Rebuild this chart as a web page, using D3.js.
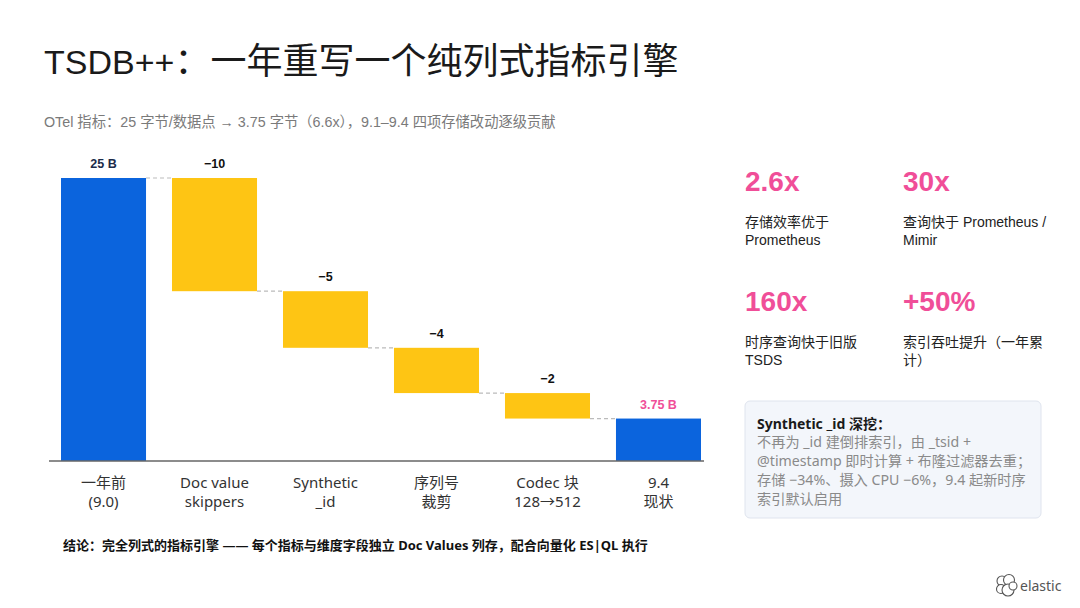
<!DOCTYPE html>
<html lang="zh">
    <head>
        <meta charset="utf-8">
        <title>TSDB++ waterfall</title>
        <script type="text/javascript" src="https://cdnjs.cloudflare.com/ajax/libs/d3/7.8.5/d3.min.js"></script>
        <style>
            html, body { margin: 0; padding: 0; background: #fff; }
            svg { display: block; }
            .latin { font-family: "Liberation Sans", Arial, "Noto Sans CJK SC", sans-serif; }
            .noto { font-family: "Noto Sans", "Noto Sans CJK SC", sans-serif; }
        </style>
    </head>
    <body>
        <div id="chart"></div>
        <script type="text/javascript">
            // waterfall data: start, four steps, result
            var categories = [["一年前", "(9.0)"], ["Doc value", "skippers"], ["Synthetic", "_id"],
                              ["序列号", "裁剪"], ["Codec 块", "128→512"], ["9.4", "现状"]];
            var startValue = 25;
            var stepValues = [-10, -5, -4, -2.25];
            var endValue = 3.75;
            var valueLabels = ["25 B", "−10", "−5", "−4", "−2", "3.75 B"];

            // stat tiles on the right
            var statNumbers = ["2.6x", "30x", "160x", "+50%"];
            var statLines = [["存储效率优于", "Prometheus"], ["查询快于 Prometheus /", "Mimir"],
                             ["时序查询快于旧版", "TSDS"], ["索引吞吐提升（一年累", "计）"]];

            var noteTitle = "Synthetic _id 深挖：";
            var noteLines = ["不再为 _id 建倒排索引，由 _tsid +", "@timestamp 即时计算 + 布隆过滤器去重；",
                             "存储 −34%、摄入 CPU −6%，9.4 起新时序", "索引默认启用"];

            var blue = "#0b64dd", yellow = "#fec514", pink = "#f04e98";

            var svg = d3.select("#chart").append("svg")
                .attr("width", 1080)
                .attr("height", 608);

            // title + subtitle
            var title = svg.append("text").attr("class", "latin")
                .attr("x", 44).attr("y", 74)
                .attr("font-size", 34).attr("fill", "#1a1a1a");
            title.append("tspan").text("TSDB++");
            title.append("tspan").attr("font-size", 36).text("：一年重写一个纯列式指标引擎");
            svg.append("text").attr("class", "latin")
                .attr("x", 44).attr("y", 127)
                .attr("font-size", 14.3).attr("fill", "#7a7a7a")
                .text("OTel 指标：25 字节/数据点 → 3.75 字节（6.6x），9.1–9.4 四项存储改动逐级贡献");

            // build the running totals
            var bars = [{ y0: 0, y1: startValue, kind: "total" }];
            var run = startValue;
            stepValues.forEach(function (v) {
                bars.push({ y0: run + v, y1: run, kind: "step" });
                run += v;
            });
            bars.push({ y0: 0, y1: endValue, kind: "total" });
            bars.forEach(function (d, i) { d.cat = categories[i]; d.label = valueLabels[i]; });

            var x = d3.scaleBand()
                .domain(d3.range(categories.length))
                .range([61, 701])
                .paddingInner(0.234)
                .paddingOuter(0);
            var y = d3.scaleLinear()
                .domain([0, startValue])
                .range([461, 178]);

            var g = svg.append("g");

            // dashed connectors between bars
            g.selectAll(".conn")
                .data(bars.slice(0, -1))
                .enter().append("line")
                .attr("x1", function (d, i) { return x(i) + x.bandwidth(); })
                .attr("x2", function (d, i) { return x(i + 1); })
                .attr("y1", function (d, i) { return y(i === 0 ? d.y1 : d.y0); })
                .attr("y2", function (d, i) { return y(i === 0 ? d.y1 : d.y0); })
                .attr("stroke", "#bbb")
                .attr("stroke-width", 1.2)
                .attr("stroke-dasharray", "4,3");

            g.selectAll(".bar")
                .data(bars)
                .enter().append("rect")
                .attr("x", function (d, i) { return x(i); })
                .attr("y", function (d) { return y(d.y1); })
                .attr("width", x.bandwidth())
                .attr("height", function (d) { return y(d.y0) - y(d.y1); })
                .attr("fill", function (d) { return d.kind === "total" ? blue : yellow; });

            g.selectAll(".vlabel")
                .data(bars)
                .enter().append("text")
                .attr("class", "latin")
                .attr("x", function (d, i) { return x(i) + x.bandwidth() / 2; })
                .attr("y", function (d) { return y(d.y1) - 10; })
                .attr("text-anchor", "middle")
                .attr("font-size", 12.5)
                .attr("font-weight", "bold")
                .attr("fill", function (d, i) { return i === 0 ? "#1c2b4a" : (i === bars.length - 1 ? pink : "#111"); })
                .text(function (d) { return d.label; });

            // baseline
            g.append("line")
                .attr("x1", 49).attr("x2", 704)
                .attr("y1", y(0)).attr("y2", y(0))
                .attr("stroke", "#666").attr("stroke-width", 1.5);

            // category labels (two lines)
            var cat = g.selectAll(".cat")
                .data(bars)
                .enter().append("text")
                .attr("class", "noto")
                .attr("text-anchor", "middle")
                .attr("font-size", 15)
                .attr("fill", "#333");
            cat.selectAll("tspan")
                .data(function (d, i) { return d.cat.map(function (t) { return { t: t, i: i }; }); })
                .enter().append("tspan")
                .attr("x", function (d) { return x(d.i) + x.bandwidth() / 2; })
                .attr("y", function (d, j) { return 488 + j * 19; })
                .text(function (d) { return d.t; });

            // stat tiles
            var tiles = svg.selectAll(".tile")
                .data(statNumbers)
                .enter().append("g")
                .attr("transform", function (d, i) {
                    return "translate(" + (745 + (i % 2) * 158) + "," + (191 + Math.floor(i / 2) * 120) + ")";
                });
            tiles.append("text")
                .attr("class", "latin")
                .attr("font-size", 28)
                .attr("font-weight", "bold")
                .attr("fill", pink)
                .text(function (d) { return d; });
            tiles.append("text")
                .attr("class", "latin")
                .attr("font-size", 14)
                .attr("fill", "#222")
                .selectAll("tspan")
                .data(function (d, i) { return statLines[i]; })
                .enter().append("tspan")
                .attr("x", 0)
                .attr("y", function (d, j) { return 36 + j * 18; })
                .text(function (d) { return d; });

            // note box
            svg.append("rect")
                .attr("x", 745).attr("y", 401)
                .attr("width", 296).attr("height", 117)
                .attr("rx", 5)
                .attr("fill", "#f3f6fb")
                .attr("stroke", "#dfe4ee");
            svg.append("text").attr("class", "noto")
                .attr("x", 757).attr("y", 429)
                .attr("font-size", 14).attr("font-weight", "bold").attr("fill", "#1a1a1a")
                .text(noteTitle);
            svg.append("text").attr("class", "noto")
                .attr("font-size", 14.2).attr("fill", "#8a8a8a")
                .selectAll("tspan")
                .data(noteLines)
                .enter().append("tspan")
                .attr("x", 757)
                .attr("y", function (d, j) { return 447 + j * 19; })
                .text(function (d) { return d; });

            // conclusion
            svg.append("text").attr("class", "noto")
                .attr("x", 63).attr("y", 550)
                .attr("font-size", 13).attr("font-weight", "bold").attr("fill", "#111")
                .text("结论：完全列式的指标引擎 —— 每个指标与维度字段独立 Doc Values 列存，配合向量化 ES|QL 执行");

            // elastic logo
            var logo = svg.append("g").attr("transform", "translate(1006,586)");
            [[-4, -5, 5], [3, -6, 5.5], [-5, 3, 4.5], [2, 4, 6], [7, 0, 4]].forEach(function (c) {
                logo.append("circle")
                    .attr("cx", c[0]).attr("cy", c[1]).attr("r", c[2])
                    .attr("fill", "#fff").attr("stroke", "#555").attr("stroke-width", 1.1);
            });
            svg.append("text").attr("class", "noto")
                .attr("x", 1020).attr("y", 591)
                .attr("font-size", 14).attr("fill", "#555")
                .text("elastic");
        </script>
    </body>
</html>
